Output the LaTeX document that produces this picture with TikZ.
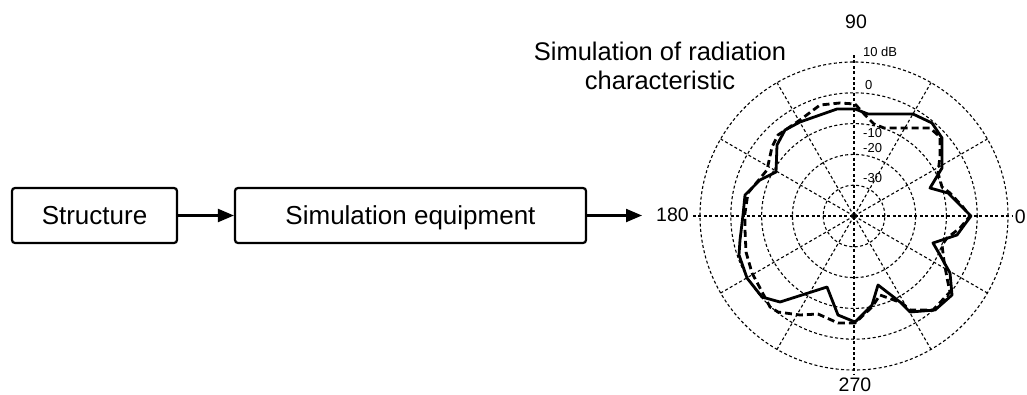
\documentclass[tikz,border=0pt]{standalone}
\usepackage{fontspec}
\setmainfont{Liberation Sans}
\usetikzlibrary{arrows.meta}
\begin{document}
\begin{tikzpicture}[x=1pt,y=-1pt,
  box/.style={draw,line width=2.2pt,rounded corners=3pt,inner sep=0pt,
    font=\fontsize{26}{30}\selectfont,text height=18.6pt,text depth=0pt,minimum height=55pt},
  flow/.style={line width=2.2pt,-{Triangle[length=16pt,width=13pt]}},
  grid/.style={line width=1.1pt,dash pattern=on 3pt off 2.4pt},
  big/.style={font=\fontsize{19.5}{22}\selectfont,inner sep=0pt},
  small/.style={font=\fontsize{13}{15}\selectfont,inner sep=0pt},
  meas/.style={line width=2.8pt,line join=round},
  sim/.style={line width=2.8pt,dash pattern=on 7pt off 4pt,line join=round}]
\useasboundingbox (0,0) rectangle (1027,394);
% block diagram
\node[box,minimum width=165pt] (s) at (94.5,215.5) {Structure};
\node[box,minimum width=351pt] (e) at (410.5,215.5) {Simulation equipment};
\coordinate (end) at (642,215.5);
\draw[flow] (s) -- (e);
\draw[flow] (e) -- (end);
% title
\node[font=\fontsize{25.5}{29}\selectfont,align=center,anchor=north,inner sep=0pt] (title)
  at (660,41.5) {Simulation of radiation\\characteristic};
% polar plot
\begin{scope}[shift={(854,216)},y=1pt]
  \foreach \r in {30.8,61.6,92.4,123.2,154} \draw[grid] (0,0) circle[radius=\r pt];
  \foreach \a in {30,60,120,150,210,240,300,330} \draw[grid] (0,0) -- (\a:154pt);
  \draw[grid] (-161,0) -- (159,0);
  \draw[grid] (0,161) -- (0,-159);
  \draw[meas] (1,107) -- (14,102) -- (59,102) -- (78,93) -- (88,78) -- (88,48) -- (76,28)
    -- (94,23) -- (109,8) -- (117,0) -- (111,-8) -- (103,-19) -- (79,-27) -- (86,-39)
    -- (96,-57) -- (98,-79) -- (81,-94) -- (56,-96) -- (46,-86) -- (24,-69) -- (18,-89)
    -- (11,-96) -- (1,-106) -- (-16,-99) -- (-27,-71) -- (-74,-86) -- (-92,-81)
    -- (-107,-62) -- (-115,-39) -- (-114,-24) -- (-111,1) -- (-109,21) -- (-94,36)
    -- (-78,44) -- (-77,71) -- (-69,86) -- (-54,94) -- (-17,107) -- cycle;
  \draw[sim] (1,112) -- (12,100) -- (20,92) -- (30,88) -- (76,88) -- (86,79) -- (86,60)
    -- (84,43) -- (88,29) -- (96,23) -- (109,9) -- (116,0) -- (106,-12) -- (93,-22)
    -- (88,-29) -- (90,-45) -- (93,-62) -- (96,-76) -- (79,-94) -- (56,-94) -- (48,-87)
    -- (26,-79) -- (18,-91) -- (1,-107) -- (-16,-107) -- (-36,-98) -- (-54,-99)
    -- (-76,-96) -- (-84,-91) -- (-94,-72) -- (-102,-57) -- (-108,-36) -- (-109,-14)
    -- (-109,3) -- (-106,23) -- (-87,46) -- (-82,69) -- (-76,81) -- (-54,96) -- (-34,111)
    -- (-14,113) -- cycle;
\end{scope}
% angle labels
\node[big] (l90) at (856,22) {90};
\node[big] (l270) at (855,385) {270};
\node[big] (l180) at (672.5,215) {180};
\node[big,anchor=east] (l0) at (1026,217) {0};
% dB labels
\node[small] (db10) at (880,52) {10 dB};
\node[small,anchor=west] (db0) at (865,85) {0};
\node[small,anchor=west] (dbm10) at (863,133) {-10};
\node[small,anchor=west] (dbm20) at (863,148) {-20};
\node[small,anchor=west] (dbm30) at (863,178) {-30};
\end{tikzpicture}
\end{document}
